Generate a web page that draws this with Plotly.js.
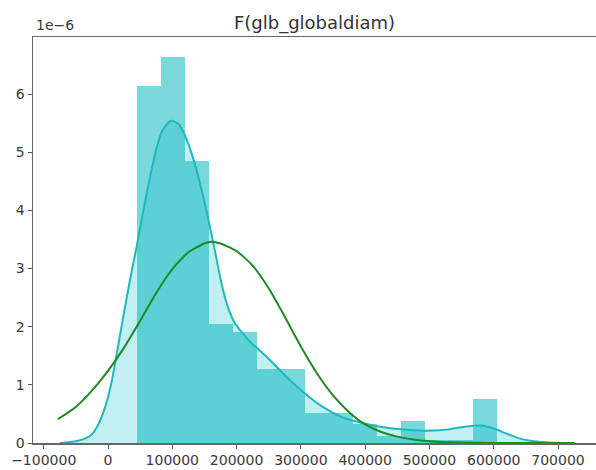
<!DOCTYPE html>
<html>
<head>
<meta charset="utf-8">
<script src="https://cdn.plot.ly/plotly-3.0.1.min.js"></script>
<style>html,body{margin:0;padding:0;background:#fff;}#chart{width:596px;height:470px;}</style>
</head>
<body>
<div id="chart"></div>
<script>
// Histogram (density, in units of 1e-6)
var binLeft = [45000, 82300, 119600, 156900, 194200, 231500, 268800, 306100, 343400, 380700, 418000, 455300, 492600, 529900, 567200];
var binWidth = 37300;
var histDensity = [6.13, 6.64, 4.85, 2.04, 1.91, 1.28, 1.27, 0.52, 0.52, 0.32, 0.12, 0.38, 0.06, 0.06, 0.76];

// KDE curve (units of 1e-6)
var kdeX = [-75000, -50000, -35000, -25000, -15000, -5000, 5000, 15000, 25000, 35000, 45000, 55000, 65000, 75000, 85000, 95000, 100000, 110000, 120000, 132000, 143000, 154000, 166000, 177000, 187000, 197500, 210000, 221000, 247000, 272000, 303000, 334000, 365000, 397000, 428000, 459000, 490000, 527000, 555000, 580000, 600000, 620000, 640000, 660000, 690000, 726000];
var kdeY = [0.0, 0.03, 0.08, 0.15, 0.32, 0.60, 1.02, 1.62, 2.25, 2.85, 3.40, 4.00, 4.55, 5.05, 5.38, 5.52, 5.54, 5.48, 5.28, 4.91, 4.47, 3.95, 3.32, 2.72, 2.32, 2.06, 1.88, 1.74, 1.48, 1.20, 0.88, 0.62, 0.44, 0.34, 0.27, 0.23, 0.21, 0.23, 0.28, 0.30, 0.25, 0.16, 0.08, 0.035, 0.006, 0.0];

// Fitted normal curve (units of 1e-6)
var fitX = [-78000, -50000, -25000, 0, 25000, 50000, 75000, 100000, 125000, 150000, 160000, 175000, 200000, 225000, 250000, 275000, 300000, 325000, 350000, 375000, 400000, 425000, 450000, 475000, 500000, 550000, 600000, 726000];
var fitY = [0.41, 0.62, 0.90, 1.24, 1.64, 2.10, 2.58, 2.99, 3.28, 3.43, 3.46, 3.43, 3.30, 3.05, 2.66, 2.17, 1.66, 1.20, 0.82, 0.53, 0.32, 0.19, 0.11, 0.06, 0.03, 0.008, 0.001, 0.0];

var xTickVals = [-100000, 0, 100000, 200000, 300000, 400000, 500000, 600000, 700000];
var xTickText = ['\u2212100000', '0', '100000', '200000', '300000', '400000', '500000', '600000', '700000'];
var yTickVals = [0, 1, 2, 3, 4, 5, 6];
var yTickText = ['0', '1', '2', '3', '4', '5', '6'];

var traces = [
  {
    type: 'bar', x: binLeft, y: histDensity, width: binWidth, offset: 0,
    marker: {color: '#7ad7da', line: {width: 0}}, hoverinfo: 'skip'
  },
  {
    type: 'scatter', mode: 'lines', x: kdeX, y: kdeY,
    line: {color: '#1db9bd', width: 2, shape: 'spline', smoothing: 0.6},
    fill: 'tozeroy', fillcolor: 'rgba(0,190,195,0.24)', hoverinfo: 'skip'
  },
  {
    type: 'scatter', mode: 'lines', x: fitX, y: fitY,
    line: {color: '#1e8a22', width: 2, shape: 'spline', smoothing: 0.6},
    hoverinfo: 'skip'
  }
];

var tickFont = {family: 'DejaVu Sans, sans-serif', size: 14, color: '#3a3a3a'};

var layout = {
  width: 596, height: 470,
  margin: {l: 33, r: 0, t: 37, b: 27, pad: 0},
  paper_bgcolor: '#fff', plot_bgcolor: '#fff',
  showlegend: false,
  bargap: 0,
  title: {
    text: 'F(glb_globaldiam)',
    font: {family: 'DejaVu Sans, sans-serif', size: 18, color: '#333'},
    x: 0.5, xref: 'paper', xanchor: 'center',
    y: 1 - 23 / 470, yref: 'container', yanchor: 'middle'
  },
  xaxis: {
    range: [-116670, 759110], showgrid: false, zeroline: false,
    showline: true, linecolor: '#666', linewidth: 1.5, mirror: true,
    ticks: 'outside', ticklen: 4, tickwidth: 1, tickcolor: '#555',
    tickvals: xTickVals, ticktext: xTickText, tickfont: tickFont
  },
  yaxis: {
    range: [0, 6.98], showgrid: false, zeroline: false,
    showline: true, linecolor: '#666', linewidth: 1.5,
    ticks: 'outside', ticklen: 4, tickwidth: 1, tickcolor: '#555',
    tickvals: yTickVals, ticktext: yTickText, tickfont: tickFont
  },
  annotations: [{
    text: '1e\u22126', xref: 'paper', yref: 'paper', x: 0, y: 1,
    xanchor: 'left', yanchor: 'bottom', yshift: 2, xshift: 1, showarrow: false,
    font: {family: 'DejaVu Sans, sans-serif', size: 14, color: '#3a3a3a'}
  }]
};

Plotly.newPlot('chart', traces, layout, {staticPlot: true, displayModeBar: false});
</script>
</body>
</html>
